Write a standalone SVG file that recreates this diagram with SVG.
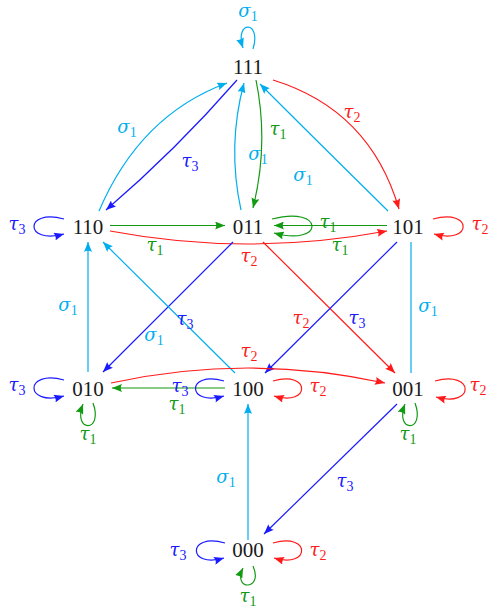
<svg xmlns="http://www.w3.org/2000/svg" width="498" height="615" viewBox="0 0 498 615">
<style>
.node{font-family:"Liberation Serif","DejaVu Serif",serif;font-size:21px;fill:#1a1a1a;text-anchor:middle}
.lb{font-family:"DejaVu Serif","Liberation Serif",serif;font-size:18px;font-style:italic;text-anchor:middle}
.sub{font-family:"Liberation Serif","DejaVu Serif",serif;font-size:14px;font-style:normal}
.e{fill:none;stroke-width:1.2}
.c{stroke:#00AEEF}.b{stroke:#1a1aff}.r{stroke:#ff1a1a}.g{stroke:#139a13}
.tc{fill:#00AEEF}.tb{fill:#1a1aff}.tr{fill:#ff1a1a}.tg{fill:#139a13}
</style>
<defs>
<marker id="aC" viewBox="0 0 10 8" refX="10" refY="4" markerWidth="10" markerHeight="8" markerUnits="userSpaceOnUse" orient="auto"><path d="M0,0 L10,4 L0,8 Q2.5,4 0,0z" fill="#00AEEF"/></marker>
<marker id="aB" viewBox="0 0 10 8" refX="10" refY="4" markerWidth="10" markerHeight="8" markerUnits="userSpaceOnUse" orient="auto"><path d="M0,0 L10,4 L0,8 Q2.5,4 0,0z" fill="#1a1aff"/></marker>
<marker id="aR" viewBox="0 0 10 8" refX="10" refY="4" markerWidth="10" markerHeight="8" markerUnits="userSpaceOnUse" orient="auto"><path d="M0,0 L10,4 L0,8 Q2.5,4 0,0z" fill="#ff1a1a"/></marker>
<marker id="aG" viewBox="0 0 10 8" refX="10" refY="4" markerWidth="10" markerHeight="8" markerUnits="userSpaceOnUse" orient="auto"><path d="M0,0 L10,4 L0,8 Q2.5,4 0,0z" fill="#139a13"/></marker>
</defs>
<g id="connectors">
<path class="e c" d="M99,211 Q140,115 227,83" marker-end="url(#aC)"/>
<path class="e b" d="M237,80 Q176,150 106,210" marker-end="url(#aB)"/>
<path class="e c" d="M241,210 Q227,146 244,83" marker-end="url(#aC)"/>
<path class="e g" d="M256,80 Q269,144 253,208" marker-end="url(#aG)"/>
<path class="e c" d="M388,211 Q317,141 260,84" marker-end="url(#aC)"/>
<path class="e r" d="M273,80 Q370,110 399,209" marker-end="url(#aR)"/>
<path class="e g" d="M110,225.5 L225,225.5" marker-end="url(#aG)"/>
<path class="e r" d="M110,231 Q248,257 387,231" marker-end="url(#aR)"/>
<path class="e g" d="M387,225.5 L274,225.5" marker-end="url(#aG)"/>
<path class="e b" d="M233,242 L103,372" marker-end="url(#aB)"/>
<path class="e r" d="M263,242 L395,373" marker-end="url(#aR)"/>
<path class="e b" d="M397,242 L265,373" marker-end="url(#aB)"/>
<path class="e c" d="M411,242 L411,373"/>
<path class="e c" d="M88,372 L88,242" marker-end="url(#aC)"/>
<path class="e c" d="M235,373 L103,242" marker-end="url(#aC)"/>
<path class="e r" d="M111,383 Q248,353 385,383" marker-end="url(#aR)"/>
<path class="e g" d="M225,388 L112,388" marker-end="url(#aG)"/>
<path class="e c" d="M248,540 L248,404" marker-end="url(#aC)"/>
<path class="e b" d="M397,404 L264,534" marker-end="url(#aB)"/>
<path class="e c" d="M253,49 C262,20 234,20 243,48" marker-end="url(#aC)"/>
<path class="e b" d="M64,219 C24,208 24,245 64,234" marker-end="url(#aB)"/>
<path class="e g" d="M272,219 C325,205 325,247 274,233" marker-end="url(#aG)"/>
<path class="e r" d="M433,219 C473,208 473,245 434,234" marker-end="url(#aR)"/>
<path class="e b" d="M64,380 C24,369 24,407 64,396" marker-end="url(#aB)"/>
<path class="e g" d="M93,403 C104,433 72,433 83,404" marker-end="url(#aG)"/>
<path class="e b" d="M224,381 C186,370 186,407 224,396" marker-end="url(#aB)"/>
<path class="e r" d="M273,381 C311,370 311,407 274,396" marker-end="url(#aR)"/>
<path class="e r" d="M435,381 C475,370 475,408 436,397" marker-end="url(#aR)"/>
<path class="e g" d="M415,403 C426,433 394,433 405,404" marker-end="url(#aG)"/>
<path class="e b" d="M225,543 C187,532 187,569 224,558" marker-end="url(#aB)"/>
<path class="e r" d="M273,543 C311,532 311,569 274,558" marker-end="url(#aR)"/>
<path class="e g" d="M253,566 C264,591 232,591 243,568" marker-end="url(#aG)"/>
<text class="lb tc" x="248" y="17">σ<tspan class="sub" dy="4">1</tspan></text>
<text class="lb tc" x="127" y="133">σ<tspan class="sub" dy="4">1</tspan></text>
<text class="lb tb" x="190" y="167">τ<tspan class="sub" dy="4">3</tspan></text>
<text class="lb tc" x="258" y="160">σ<tspan class="sub" dy="4">1</tspan></text>
<text class="lb tg" x="278" y="135">τ<tspan class="sub" dy="4">1</tspan></text>
<text class="lb tc" x="303" y="181">σ<tspan class="sub" dy="4">1</tspan></text>
<text class="lb tr" x="352" y="118">τ<tspan class="sub" dy="4">2</tspan></text>
<text class="lb tb" x="17" y="230">τ<tspan class="sub" dy="4">3</tspan></text>
<text class="lb tg" x="155" y="251">τ<tspan class="sub" dy="4">1</tspan></text>
<text class="lb tr" x="249" y="262">τ<tspan class="sub" dy="4">2</tspan></text>
<text class="lb tg" x="328" y="228">τ<tspan class="sub" dy="4">1</tspan></text>
<text class="lb tg" x="340" y="251">τ<tspan class="sub" dy="4">1</tspan></text>
<text class="lb tr" x="480" y="230">τ<tspan class="sub" dy="4">2</tspan></text>
<text class="lb tc" x="68" y="311">σ<tspan class="sub" dy="4">1</tspan></text>
<text class="lb tb" x="185" y="325">τ<tspan class="sub" dy="4">3</tspan></text>
<text class="lb tc" x="154" y="341">σ<tspan class="sub" dy="4">1</tspan></text>
<text class="lb tr" x="301" y="324">τ<tspan class="sub" dy="4">2</tspan></text>
<text class="lb tb" x="357" y="324">τ<tspan class="sub" dy="4">3</tspan></text>
<text class="lb tc" x="428" y="312">σ<tspan class="sub" dy="4">1</tspan></text>
<text class="lb tr" x="249" y="357">τ<tspan class="sub" dy="4">2</tspan></text>
<text class="lb tb" x="17" y="391">τ<tspan class="sub" dy="4">3</tspan></text>
<text class="lb tb" x="180" y="392">τ<tspan class="sub" dy="4">3</tspan></text>
<text class="lb tr" x="318" y="392">τ<tspan class="sub" dy="4">2</tspan></text>
<text class="lb tg" x="177" y="410">τ<tspan class="sub" dy="4">1</tspan></text>
<text class="lb tr" x="478" y="391">τ<tspan class="sub" dy="4">2</tspan></text>
<text class="lb tg" x="88" y="440">τ<tspan class="sub" dy="4">1</tspan></text>
<text class="lb tg" x="408" y="440">τ<tspan class="sub" dy="4">1</tspan></text>
<text class="lb tc" x="226" y="483">σ<tspan class="sub" dy="4">1</tspan></text>
<text class="lb tb" x="345" y="487">τ<tspan class="sub" dy="4">3</tspan></text>
<text class="lb tb" x="178" y="556">τ<tspan class="sub" dy="4">3</tspan></text>
<text class="lb tr" x="318" y="556">τ<tspan class="sub" dy="4">2</tspan></text>
<text class="lb tg" x="248" y="602">τ<tspan class="sub" dy="4">1</tspan></text>
</g>
<g id="n111"><text class="node" x="248" y="73.5">111</text></g>
<g id="n110"><text class="node" x="88" y="234">110</text></g>
<g id="n011"><text class="node" x="248" y="234">011</text></g>
<g id="n101"><text class="node" x="408" y="234">101</text></g>
<g id="n010"><text class="node" x="88" y="396">010</text></g>
<g id="n100"><text class="node" x="248" y="396">100</text></g>
<g id="n001"><text class="node" x="408" y="396">001</text></g>
<g id="n000"><text class="node" x="248" y="557">000</text></g>
</svg>
